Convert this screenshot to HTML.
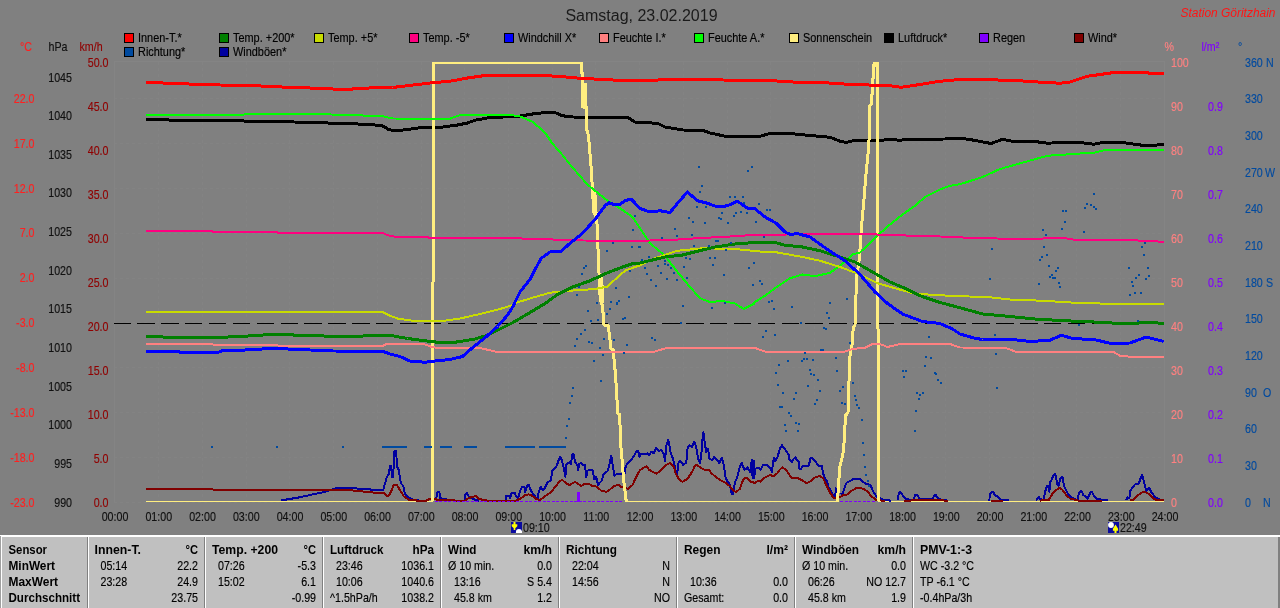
<!DOCTYPE html>
<html><head><meta charset="utf-8"><title>Wetter</title>
<style>html,body{margin:0;padding:0;background:#808080;overflow:hidden}svg{display:block;will-change:transform}text{font-family:"Liberation Sans", sans-serif;}</style>
</head><body>
<svg width="1280" height="608" viewBox="0 0 1280 608">
<rect x="0" y="0" width="1280" height="608" fill="#808080"/>
<text x="641.5" y="21" fill="#1a1a1a" font-size="16" text-anchor="middle" >Samstag, 23.02.2019</text>
<text x="1180.5" y="17" fill="#ff1414" font-size="12" text-anchor="start" font-style="italic" textLength="95" lengthAdjust="spacingAndGlyphs">Station G&#246;ritzhain</text>
<rect x="124.5" y="33.5" width="9" height="9" fill="#ff0000" stroke="#000" stroke-width="1" shape-rendering="crispEdges"/>
<text transform="translate(138 42) scale(0.91 1)" fill="#000" stroke="#000" stroke-width="0.15" font-size="12" text-anchor="start" >Innen-T.*</text>
<rect x="219.5" y="33.5" width="9" height="9" fill="#008000" stroke="#000" stroke-width="1" shape-rendering="crispEdges"/>
<text transform="translate(233 42) scale(0.91 1)" fill="#000" stroke="#000" stroke-width="0.15" font-size="12" text-anchor="start" >Temp. +200*</text>
<rect x="314.5" y="33.5" width="9" height="9" fill="#c8dc00" stroke="#000" stroke-width="1" shape-rendering="crispEdges"/>
<text transform="translate(328 42) scale(0.91 1)" fill="#000" stroke="#000" stroke-width="0.15" font-size="12" text-anchor="start" >Temp. +5*</text>
<rect x="409.5" y="33.5" width="9" height="9" fill="#ff0080" stroke="#000" stroke-width="1" shape-rendering="crispEdges"/>
<text transform="translate(423 42) scale(0.91 1)" fill="#000" stroke="#000" stroke-width="0.15" font-size="12" text-anchor="start" >Temp. -5*</text>
<rect x="504.5" y="33.5" width="9" height="9" fill="#0000ff" stroke="#000" stroke-width="1" shape-rendering="crispEdges"/>
<text transform="translate(518 42) scale(0.91 1)" fill="#000" stroke="#000" stroke-width="0.15" font-size="12" text-anchor="start" >Windchill X*</text>
<rect x="599.5" y="33.5" width="9" height="9" fill="#ff8080" stroke="#000" stroke-width="1" shape-rendering="crispEdges"/>
<text transform="translate(613 42) scale(0.91 1)" fill="#000" stroke="#000" stroke-width="0.15" font-size="12" text-anchor="start" >Feuchte I.*</text>
<rect x="694.5" y="33.5" width="9" height="9" fill="#00ff00" stroke="#000" stroke-width="1" shape-rendering="crispEdges"/>
<text transform="translate(708 42) scale(0.91 1)" fill="#000" stroke="#000" stroke-width="0.15" font-size="12" text-anchor="start" >Feuchte A.*</text>
<rect x="789.5" y="33.5" width="9" height="9" fill="#ffee80" stroke="#000" stroke-width="1" shape-rendering="crispEdges"/>
<text transform="translate(803 42) scale(0.91 1)" fill="#000" stroke="#000" stroke-width="0.15" font-size="12" text-anchor="start" >Sonnenschein</text>
<rect x="884.5" y="33.5" width="9" height="9" fill="#000000" stroke="#000" stroke-width="1" shape-rendering="crispEdges"/>
<text transform="translate(898 42) scale(0.91 1)" fill="#000" stroke="#000" stroke-width="0.15" font-size="12" text-anchor="start" >Luftdruck*</text>
<rect x="979.5" y="33.5" width="9" height="9" fill="#8000ff" stroke="#000" stroke-width="1" shape-rendering="crispEdges"/>
<text transform="translate(993 42) scale(0.91 1)" fill="#000" stroke="#000" stroke-width="0.15" font-size="12" text-anchor="start" >Regen</text>
<rect x="1074.5" y="33.5" width="9" height="9" fill="#800000" stroke="#000" stroke-width="1" shape-rendering="crispEdges"/>
<text transform="translate(1088 42) scale(0.91 1)" fill="#000" stroke="#000" stroke-width="0.15" font-size="12" text-anchor="start" >Wind*</text>
<rect x="124.5" y="47.5" width="9" height="9" fill="#004a9f" stroke="#000" stroke-width="1" shape-rendering="crispEdges"/>
<text transform="translate(138 56) scale(0.91 1)" fill="#000" stroke="#000" stroke-width="0.15" font-size="12" text-anchor="start" >Richtung*</text>
<rect x="219.5" y="47.5" width="9" height="9" fill="#0000a0" stroke="#000" stroke-width="1" shape-rendering="crispEdges"/>
<text transform="translate(233 56) scale(0.91 1)" fill="#000" stroke="#000" stroke-width="0.15" font-size="12" text-anchor="start" >Windb&#246;en*</text>
<text transform="translate(20 51) scale(0.89 1)" fill="#ff2020" stroke="#ff2020" stroke-width="0.15" font-size="12" text-anchor="start" >&#176;C</text>
<text transform="translate(48.5 51) scale(0.89 1)" fill="#101010" stroke="#101010" stroke-width="0.15" font-size="12" text-anchor="start" >hPa</text>
<text transform="translate(79.5 51) scale(0.89 1)" fill="#900000" stroke="#900000" stroke-width="0.15" font-size="12" text-anchor="start" >km/h</text>
<text transform="translate(1164.5 51) scale(0.89 1)" fill="#ff8080" stroke="#ff8080" stroke-width="0.15" font-size="12" text-anchor="start" >%</text>
<text transform="translate(1201.5 51) scale(0.89 1)" fill="#8000ff" stroke="#8000ff" stroke-width="0.15" font-size="12" text-anchor="start" >l/m&#178;</text>
<text transform="translate(1238 51) scale(0.89 1)" fill="#004a9f" stroke="#004a9f" stroke-width="0.15" font-size="12" text-anchor="start" >&#176;</text>
<text transform="translate(34.5 102.75) scale(0.89 1)" fill="#ff2020" stroke="#ff2020" stroke-width="0.15" font-size="12" text-anchor="end" >22.0</text>
<text transform="translate(34.5 147.65) scale(0.89 1)" fill="#ff2020" stroke="#ff2020" stroke-width="0.15" font-size="12" text-anchor="end" >17.0</text>
<text transform="translate(34.5 192.55) scale(0.89 1)" fill="#ff2020" stroke="#ff2020" stroke-width="0.15" font-size="12" text-anchor="end" >12.0</text>
<text transform="translate(34.5 237.45) scale(0.89 1)" fill="#ff2020" stroke="#ff2020" stroke-width="0.15" font-size="12" text-anchor="end" >7.0</text>
<text transform="translate(34.5 282.35) scale(0.89 1)" fill="#ff2020" stroke="#ff2020" stroke-width="0.15" font-size="12" text-anchor="end" >2.0</text>
<text transform="translate(34.5 327.25) scale(0.89 1)" fill="#ff2020" stroke="#ff2020" stroke-width="0.15" font-size="12" text-anchor="end" >-3.0</text>
<text transform="translate(34.5 372.15) scale(0.89 1)" fill="#ff2020" stroke="#ff2020" stroke-width="0.15" font-size="12" text-anchor="end" >-8.0</text>
<text transform="translate(34.5 417.05) scale(0.89 1)" fill="#ff2020" stroke="#ff2020" stroke-width="0.15" font-size="12" text-anchor="end" >-13.0</text>
<text transform="translate(34.5 461.95) scale(0.89 1)" fill="#ff2020" stroke="#ff2020" stroke-width="0.15" font-size="12" text-anchor="end" >-18.0</text>
<text transform="translate(34.5 506.85) scale(0.89 1)" fill="#ff2020" stroke="#ff2020" stroke-width="0.15" font-size="12" text-anchor="end" >-23.0</text>
<text transform="translate(72 81.5) scale(0.89 1)" fill="#101010" stroke="#101010" stroke-width="0.15" font-size="12" text-anchor="end" >1045</text>
<text transform="translate(72 120.16) scale(0.89 1)" fill="#101010" stroke="#101010" stroke-width="0.15" font-size="12" text-anchor="end" >1040</text>
<text transform="translate(72 158.82) scale(0.89 1)" fill="#101010" stroke="#101010" stroke-width="0.15" font-size="12" text-anchor="end" >1035</text>
<text transform="translate(72 197.48) scale(0.89 1)" fill="#101010" stroke="#101010" stroke-width="0.15" font-size="12" text-anchor="end" >1030</text>
<text transform="translate(72 236.14) scale(0.89 1)" fill="#101010" stroke="#101010" stroke-width="0.15" font-size="12" text-anchor="end" >1025</text>
<text transform="translate(72 274.8) scale(0.89 1)" fill="#101010" stroke="#101010" stroke-width="0.15" font-size="12" text-anchor="end" >1020</text>
<text transform="translate(72 313.46) scale(0.89 1)" fill="#101010" stroke="#101010" stroke-width="0.15" font-size="12" text-anchor="end" >1015</text>
<text transform="translate(72 352.12) scale(0.89 1)" fill="#101010" stroke="#101010" stroke-width="0.15" font-size="12" text-anchor="end" >1010</text>
<text transform="translate(72 390.78) scale(0.89 1)" fill="#101010" stroke="#101010" stroke-width="0.15" font-size="12" text-anchor="end" >1005</text>
<text transform="translate(72 429.44) scale(0.89 1)" fill="#101010" stroke="#101010" stroke-width="0.15" font-size="12" text-anchor="end" >1000</text>
<text transform="translate(72 468.1) scale(0.89 1)" fill="#101010" stroke="#101010" stroke-width="0.15" font-size="12" text-anchor="end" >995</text>
<text transform="translate(72 506.76) scale(0.89 1)" fill="#101010" stroke="#101010" stroke-width="0.15" font-size="12" text-anchor="end" >990</text>
<text transform="translate(108.5 66.5) scale(0.89 1)" fill="#900000" stroke="#900000" stroke-width="0.15" font-size="12" text-anchor="end" >50.0</text>
<text transform="translate(108.5 110.5) scale(0.89 1)" fill="#900000" stroke="#900000" stroke-width="0.15" font-size="12" text-anchor="end" >45.0</text>
<text transform="translate(108.5 154.5) scale(0.89 1)" fill="#900000" stroke="#900000" stroke-width="0.15" font-size="12" text-anchor="end" >40.0</text>
<text transform="translate(108.5 198.5) scale(0.89 1)" fill="#900000" stroke="#900000" stroke-width="0.15" font-size="12" text-anchor="end" >35.0</text>
<text transform="translate(108.5 242.5) scale(0.89 1)" fill="#900000" stroke="#900000" stroke-width="0.15" font-size="12" text-anchor="end" >30.0</text>
<text transform="translate(108.5 286.5) scale(0.89 1)" fill="#900000" stroke="#900000" stroke-width="0.15" font-size="12" text-anchor="end" >25.0</text>
<text transform="translate(108.5 330.5) scale(0.89 1)" fill="#900000" stroke="#900000" stroke-width="0.15" font-size="12" text-anchor="end" >20.0</text>
<text transform="translate(108.5 374.5) scale(0.89 1)" fill="#900000" stroke="#900000" stroke-width="0.15" font-size="12" text-anchor="end" >15.0</text>
<text transform="translate(108.5 418.5) scale(0.89 1)" fill="#900000" stroke="#900000" stroke-width="0.15" font-size="12" text-anchor="end" >10.0</text>
<text transform="translate(108.5 462.5) scale(0.89 1)" fill="#900000" stroke="#900000" stroke-width="0.15" font-size="12" text-anchor="end" >5.0</text>
<text transform="translate(108.5 506.5) scale(0.89 1)" fill="#900000" stroke="#900000" stroke-width="0.15" font-size="12" text-anchor="end" >0.0</text>
<text transform="translate(1171 66.5) scale(0.89 1)" fill="#ff8080" stroke="#ff8080" stroke-width="0.15" font-size="12" text-anchor="start" >100</text>
<text transform="translate(1171 110.5) scale(0.89 1)" fill="#ff8080" stroke="#ff8080" stroke-width="0.15" font-size="12" text-anchor="start" >90</text>
<text transform="translate(1171 154.5) scale(0.89 1)" fill="#ff8080" stroke="#ff8080" stroke-width="0.15" font-size="12" text-anchor="start" >80</text>
<text transform="translate(1171 198.5) scale(0.89 1)" fill="#ff8080" stroke="#ff8080" stroke-width="0.15" font-size="12" text-anchor="start" >70</text>
<text transform="translate(1171 242.5) scale(0.89 1)" fill="#ff8080" stroke="#ff8080" stroke-width="0.15" font-size="12" text-anchor="start" >60</text>
<text transform="translate(1171 286.5) scale(0.89 1)" fill="#ff8080" stroke="#ff8080" stroke-width="0.15" font-size="12" text-anchor="start" >50</text>
<text transform="translate(1171 330.5) scale(0.89 1)" fill="#ff8080" stroke="#ff8080" stroke-width="0.15" font-size="12" text-anchor="start" >40</text>
<text transform="translate(1171 374.5) scale(0.89 1)" fill="#ff8080" stroke="#ff8080" stroke-width="0.15" font-size="12" text-anchor="start" >30</text>
<text transform="translate(1171 418.5) scale(0.89 1)" fill="#ff8080" stroke="#ff8080" stroke-width="0.15" font-size="12" text-anchor="start" >20</text>
<text transform="translate(1171 462.5) scale(0.89 1)" fill="#ff8080" stroke="#ff8080" stroke-width="0.15" font-size="12" text-anchor="start" >10</text>
<text transform="translate(1171 506.5) scale(0.89 1)" fill="#ff8080" stroke="#ff8080" stroke-width="0.15" font-size="12" text-anchor="start" >0</text>
<text transform="translate(1208 110.5) scale(0.89 1)" fill="#8000ff" stroke="#8000ff" stroke-width="0.15" font-size="12" text-anchor="start" >0.9</text>
<text transform="translate(1208 154.5) scale(0.89 1)" fill="#8000ff" stroke="#8000ff" stroke-width="0.15" font-size="12" text-anchor="start" >0.8</text>
<text transform="translate(1208 198.5) scale(0.89 1)" fill="#8000ff" stroke="#8000ff" stroke-width="0.15" font-size="12" text-anchor="start" >0.7</text>
<text transform="translate(1208 242.5) scale(0.89 1)" fill="#8000ff" stroke="#8000ff" stroke-width="0.15" font-size="12" text-anchor="start" >0.6</text>
<text transform="translate(1208 286.5) scale(0.89 1)" fill="#8000ff" stroke="#8000ff" stroke-width="0.15" font-size="12" text-anchor="start" >0.5</text>
<text transform="translate(1208 330.5) scale(0.89 1)" fill="#8000ff" stroke="#8000ff" stroke-width="0.15" font-size="12" text-anchor="start" >0.4</text>
<text transform="translate(1208 374.5) scale(0.89 1)" fill="#8000ff" stroke="#8000ff" stroke-width="0.15" font-size="12" text-anchor="start" >0.3</text>
<text transform="translate(1208 418.5) scale(0.89 1)" fill="#8000ff" stroke="#8000ff" stroke-width="0.15" font-size="12" text-anchor="start" >0.2</text>
<text transform="translate(1208 462.5) scale(0.89 1)" fill="#8000ff" stroke="#8000ff" stroke-width="0.15" font-size="12" text-anchor="start" >0.1</text>
<text transform="translate(1208 506.5) scale(0.89 1)" fill="#8000ff" stroke="#8000ff" stroke-width="0.15" font-size="12" text-anchor="start" >0.0</text>
<text transform="translate(1245 66.5) scale(0.89 1)" fill="#004a9f" stroke="#004a9f" stroke-width="0.15" font-size="12" text-anchor="start" >360</text>
<text transform="translate(1266 66.5) scale(0.89 1)" fill="#004a9f" stroke="#004a9f" stroke-width="0.15" font-size="12" text-anchor="start" >N</text>
<text transform="translate(1245 103.19) scale(0.89 1)" fill="#004a9f" stroke="#004a9f" stroke-width="0.15" font-size="12" text-anchor="start" >330</text>
<text transform="translate(1245 139.88) scale(0.89 1)" fill="#004a9f" stroke="#004a9f" stroke-width="0.15" font-size="12" text-anchor="start" >300</text>
<text transform="translate(1245 176.57) scale(0.89 1)" fill="#004a9f" stroke="#004a9f" stroke-width="0.15" font-size="12" text-anchor="start" >270</text>
<text transform="translate(1265 176.57) scale(0.89 1)" fill="#004a9f" stroke="#004a9f" stroke-width="0.15" font-size="12" text-anchor="start" >W</text>
<text transform="translate(1245 213.26) scale(0.89 1)" fill="#004a9f" stroke="#004a9f" stroke-width="0.15" font-size="12" text-anchor="start" >240</text>
<text transform="translate(1245 249.95) scale(0.89 1)" fill="#004a9f" stroke="#004a9f" stroke-width="0.15" font-size="12" text-anchor="start" >210</text>
<text transform="translate(1245 286.64) scale(0.89 1)" fill="#004a9f" stroke="#004a9f" stroke-width="0.15" font-size="12" text-anchor="start" >180</text>
<text transform="translate(1266 286.64) scale(0.89 1)" fill="#004a9f" stroke="#004a9f" stroke-width="0.15" font-size="12" text-anchor="start" >S</text>
<text transform="translate(1245 323.33) scale(0.89 1)" fill="#004a9f" stroke="#004a9f" stroke-width="0.15" font-size="12" text-anchor="start" >150</text>
<text transform="translate(1245 360.02) scale(0.89 1)" fill="#004a9f" stroke="#004a9f" stroke-width="0.15" font-size="12" text-anchor="start" >120</text>
<text transform="translate(1245 396.71) scale(0.89 1)" fill="#004a9f" stroke="#004a9f" stroke-width="0.15" font-size="12" text-anchor="start" >90</text>
<text transform="translate(1263 396.71) scale(0.89 1)" fill="#004a9f" stroke="#004a9f" stroke-width="0.15" font-size="12" text-anchor="start" >O</text>
<text transform="translate(1245 433.4) scale(0.89 1)" fill="#004a9f" stroke="#004a9f" stroke-width="0.15" font-size="12" text-anchor="start" >60</text>
<text transform="translate(1245 470.09) scale(0.89 1)" fill="#004a9f" stroke="#004a9f" stroke-width="0.15" font-size="12" text-anchor="start" >30</text>
<text transform="translate(1245 506.78) scale(0.89 1)" fill="#004a9f" stroke="#004a9f" stroke-width="0.15" font-size="12" text-anchor="start" >0</text>
<text transform="translate(1263 506.78) scale(0.89 1)" fill="#004a9f" stroke="#004a9f" stroke-width="0.15" font-size="12" text-anchor="start" >N</text>
<text transform="translate(115 521) scale(0.89 1)" fill="#101010" stroke="#101010" stroke-width="0.15" font-size="12" text-anchor="middle" >00:00</text>
<text transform="translate(158.75 521) scale(0.89 1)" fill="#101010" stroke="#101010" stroke-width="0.15" font-size="12" text-anchor="middle" >01:00</text>
<text transform="translate(202.5 521) scale(0.89 1)" fill="#101010" stroke="#101010" stroke-width="0.15" font-size="12" text-anchor="middle" >02:00</text>
<text transform="translate(246.25 521) scale(0.89 1)" fill="#101010" stroke="#101010" stroke-width="0.15" font-size="12" text-anchor="middle" >03:00</text>
<text transform="translate(290 521) scale(0.89 1)" fill="#101010" stroke="#101010" stroke-width="0.15" font-size="12" text-anchor="middle" >04:00</text>
<text transform="translate(333.75 521) scale(0.89 1)" fill="#101010" stroke="#101010" stroke-width="0.15" font-size="12" text-anchor="middle" >05:00</text>
<text transform="translate(377.5 521) scale(0.89 1)" fill="#101010" stroke="#101010" stroke-width="0.15" font-size="12" text-anchor="middle" >06:00</text>
<text transform="translate(421.25 521) scale(0.89 1)" fill="#101010" stroke="#101010" stroke-width="0.15" font-size="12" text-anchor="middle" >07:00</text>
<text transform="translate(465 521) scale(0.89 1)" fill="#101010" stroke="#101010" stroke-width="0.15" font-size="12" text-anchor="middle" >08:00</text>
<text transform="translate(508.75 521) scale(0.89 1)" fill="#101010" stroke="#101010" stroke-width="0.15" font-size="12" text-anchor="middle" >09:00</text>
<text transform="translate(552.5 521) scale(0.89 1)" fill="#101010" stroke="#101010" stroke-width="0.15" font-size="12" text-anchor="middle" >10:00</text>
<text transform="translate(596.25 521) scale(0.89 1)" fill="#101010" stroke="#101010" stroke-width="0.15" font-size="12" text-anchor="middle" >11:00</text>
<text transform="translate(640 521) scale(0.89 1)" fill="#101010" stroke="#101010" stroke-width="0.15" font-size="12" text-anchor="middle" >12:00</text>
<text transform="translate(683.75 521) scale(0.89 1)" fill="#101010" stroke="#101010" stroke-width="0.15" font-size="12" text-anchor="middle" >13:00</text>
<text transform="translate(727.5 521) scale(0.89 1)" fill="#101010" stroke="#101010" stroke-width="0.15" font-size="12" text-anchor="middle" >14:00</text>
<text transform="translate(771.25 521) scale(0.89 1)" fill="#101010" stroke="#101010" stroke-width="0.15" font-size="12" text-anchor="middle" >15:00</text>
<text transform="translate(815 521) scale(0.89 1)" fill="#101010" stroke="#101010" stroke-width="0.15" font-size="12" text-anchor="middle" >16:00</text>
<text transform="translate(858.75 521) scale(0.89 1)" fill="#101010" stroke="#101010" stroke-width="0.15" font-size="12" text-anchor="middle" >17:00</text>
<text transform="translate(902.5 521) scale(0.89 1)" fill="#101010" stroke="#101010" stroke-width="0.15" font-size="12" text-anchor="middle" >18:00</text>
<text transform="translate(946.25 521) scale(0.89 1)" fill="#101010" stroke="#101010" stroke-width="0.15" font-size="12" text-anchor="middle" >19:00</text>
<text transform="translate(990 521) scale(0.89 1)" fill="#101010" stroke="#101010" stroke-width="0.15" font-size="12" text-anchor="middle" >20:00</text>
<text transform="translate(1033.75 521) scale(0.89 1)" fill="#101010" stroke="#101010" stroke-width="0.15" font-size="12" text-anchor="middle" >21:00</text>
<text transform="translate(1077.5 521) scale(0.89 1)" fill="#101010" stroke="#101010" stroke-width="0.15" font-size="12" text-anchor="middle" >22:00</text>
<text transform="translate(1121.25 521) scale(0.89 1)" fill="#101010" stroke="#101010" stroke-width="0.15" font-size="12" text-anchor="middle" >23:00</text>
<text transform="translate(1165 521) scale(0.89 1)" fill="#101010" stroke="#101010" stroke-width="0.15" font-size="12" text-anchor="middle" >24:00</text>
<g shape-rendering="crispEdges">
<path d="M114.5 62V502M158.5 62V502M202.5 62V502M246.5 62V502M289.5 62V502M333.5 62V502M377.5 62V502M421.5 62V502M464.5 62V502M508.5 62V502M552.5 62V502M595.5 62V502M639.5 62V502M683.5 62V502M727.5 62V502M770.5 62V502M814.5 62V502M858.5 62V502M901.5 62V502M945.5 62V502M989.5 62V502M1033.5 62V502M1076.5 62V502M1120.5 62V502M1164.5 62V502M114 98.5H1164M114 143.5H1164M114 188.5H1164M114 233.5H1164M114 278.5H1164M114 322.5H1164M114 367.5H1164M114 412.5H1164M114 457.5H1164M114 502.5H1164" stroke="#838383" stroke-width="1" fill="none" stroke-dasharray="3 3"/>
<path d="M114.5 502V61.5H1164.5V502" stroke="#848484" stroke-width="1" fill="none"/>
<line x1="113.5" y1="323.5" x2="1164" y2="323.5" stroke="#000" stroke-width="1" stroke-dasharray="17.4 6.46"/>
<line x1="145.75" y1="501.5" x2="433" y2="501.5" stroke="#ffee80" stroke-width="1.6"/>
<line x1="626" y1="501.5" x2="837.5" y2="501.5" stroke="#ffee80" stroke-width="1.6"/>
<line x1="877.5" y1="501.5" x2="1163.75" y2="501.5" stroke="#ffee80" stroke-width="1.6"/>
<polyline points="281.25,500.4 300,497.25 312.5,494.4 325,491.9 335,488.5 340,487.75 355,487.75 357.5,488.75 370,488.75 371.25,490 383.1,490 385,483.75 386.9,476.9 388.75,474.4 390,466.25 391.25,466.25 391.9,476.9 393.1,477.5 394.4,451.25 396.25,451.25 396.9,466.25 398.75,470 400,478.75 401.25,483.75 403.1,485.6 405,493.75 408.75,497.5 412.5,499.4 420,500.6" fill="none" stroke="#0000a0" stroke-width="2" stroke-linejoin="round" />
<polyline points="436.25,498.75 437.5,491.9 439.4,491.9 440,498 443.75,499 452,500.4" fill="none" stroke="#0000a0" stroke-width="2" stroke-linejoin="round" />
<polyline points="464.4,500.6 465,495.6 466.9,492.5 468.75,496.25 472.5,498.75 478.75,501" fill="none" stroke="#0000a0" stroke-width="2" stroke-linejoin="round" />
<polyline points="505.6,501 506.25,496 508.75,495.6 510,498.1 511.9,492.5 514.4,492.5 516.25,496.25 518.1,498.5 520,491.25 521.9,486.9 524.4,486.9 525.25,491.9 527.5,484.75 528.75,485 531.25,491.25 535,496.25 537.5,499.4 538.1,494.4 540.6,486.9 543.1,490 545,487.75 547.5,482.5 550.6,480.6 552.5,470.6 556.25,466.9 558.75,460 560,456.9 561.9,460 564.4,471.25 565.4,476.9 566.25,464.4 570,461.9 570.6,464.4 572.5,454.4 573.75,454.4 575,461.9 577.5,465.6 578.1,470 579.4,463.75 581.25,463.1 582.5,465 585,465.25 586.25,476.9 587.5,470.6 592.5,470 594.4,479.4 596.25,476.9 598.1,485 600,482.5 601.9,480.6 603.75,473.75 607.5,471.25 609.4,465 611.25,455.6 612.5,463.75 614.4,475.6 617.5,473.75 620,473.75 624.4,475.6 625,468.75 626.9,463.75 631.25,460 633.75,456.25 636.25,451.9 638.1,450.6 639.4,456.9 640.6,453.75 647.5,453.5 649.4,455 651.25,451.9 653.75,453.1 656.25,448.1 658.75,451.25 661.25,450 663.75,453.75 665,461.25 666.25,446.25 668.1,439.75 669.4,445 670.6,452.5 672.5,457.5 674.4,464.4 675.6,470 677.25,473.75 678.1,463.75 680,460.6 683.1,465 686.25,462.5 687.5,448.75 689.4,445 691.9,446.9 694.4,441.9 696.25,447.5 698.1,458.75 700,463.1 701.25,455 702.5,439.4 703.4,432.5 704.4,440 706.25,452.5 708.1,448.75 709.4,458.75 711.9,460 714.4,456.9 716.9,460 719.4,463.1 721.9,457.5 723.75,465 725.6,477.5 727.5,481.25 730,485 731.9,494.4 733.1,493.75 735,482.5 737.5,476.25 740,466.25 741.9,463.1 744.4,470 747.5,467.5 750,471.9 751.9,460 752.6,478.5 753.75,461 754.3,478.1 755,468.75 758.75,467.5 760.6,470 763.1,465 767.5,465 770,468.1 771.9,471.9 773.75,458.1 775,461.25 777.5,456.9 780,448.75 781.9,445 785,449.4 788.75,455 789.4,459.4 791.9,461.9 793.75,458.75 795.6,456.9 796.9,460.6 798.75,461.25 799.4,468.75 801.25,468.75 802.5,466.25 808.75,465.6 810.6,458.1 812.5,458.1 814.4,460 816.9,463.75 818.75,465.6 821.9,466.25 823.1,473.75 825,478.1 826.9,481.25 828.75,487.5 831.25,491.25 833.75,496.25 835,496.25 836.25,487.5" fill="none" stroke="#0000a0" stroke-width="2" stroke-linejoin="round" />
<polyline points="840.6,494.4 842.5,493.75 845,486.25 846.9,482.5 850,481 853.75,478.75 859.4,478.75 862.5,481.25 865.6,483.75 870.6,485 872.5,490 875,494.4 876.9,496.9 880.6,498.5 883.75,500 890.6,500.6" fill="none" stroke="#0000a0" stroke-width="2" stroke-linejoin="round" />
<polyline points="897.5,500 898.75,493.75 900.25,491.5 902.5,495 905,498.5 910,499.75 913.75,499.75 915,495 916.9,494.75 918.75,497.5 921.25,499.4 932.5,499.4 934.4,495 935.6,494.75 937.5,498.1 940,499.4 942.5,500 948,500.6" fill="none" stroke="#0000a0" stroke-width="2" stroke-linejoin="round" />
<polyline points="989.4,500.6 989.75,494.4 991.9,491.5 993.1,491.5 994.4,495 996.9,496.25 1000,499.4 1003.75,500.4 1008.75,500.4" fill="none" stroke="#0000a0" stroke-width="2" stroke-linejoin="round" />
<polyline points="1036.25,500.4 1038.75,496.9 1040.6,499.4 1043.75,499.75 1045,492.5 1046.9,485.6 1048.1,485.6 1049.4,491.9 1050,481.9 1051.9,479.4 1053.1,475.6 1055,473.75 1056.25,478.1 1057.5,485 1058.75,485.6 1060,479.4 1061.9,476.9 1063.1,478.1 1063.75,485.6 1065.6,489.4 1067.5,493.1 1070.6,496.9 1074.4,498.75 1077.5,500.25 1078.75,493.75 1080.6,491 1081.9,491.5 1083.1,495 1085,496.25 1087.5,498.5 1088.75,496.25 1090.6,491.9 1091.9,491.9 1093.75,495.6 1096.25,498.75 1100,499.4 1103.75,500.4 1107.5,500.4" fill="none" stroke="#0000a0" stroke-width="2" stroke-linejoin="round" />
<polyline points="1126.25,500 1127.5,497.5 1129.4,498 1130,491.25 1132.5,487.5 1135,484.4 1138.75,483.75 1140.6,478.1 1141.9,474.75 1143.1,478.1 1144.4,483.75 1146.25,490.6 1148.75,488.1 1150,489.4 1151.9,493.1 1155,496.9 1158.1,499.1 1162.5,500.4 1163.75,500.4" fill="none" stroke="#0000a0" stroke-width="2" stroke-linejoin="round" />
<polyline points="146,489 212.5,489 213.5,490 352.5,490 353.75,491 362.5,491.5 372.5,492.5 383.75,493 386.25,495.6 388.75,495.6 391.25,491.25 393.75,485 396.9,485 400,490 403.75,496.25 408.75,499.75 417.5,500.6 426.25,500.6 430,498.75 435,498.75 437.5,500 451.25,500 458.75,501 460,501.25 465,500.6 468.75,498.1 472.5,496.9 475.6,496 478.1,498.5 482.5,499.75 489.4,501 506.25,501 516.25,500.6 521.25,498.1 525,495 528.75,494.4 532.5,496 536.25,499 540,500 545,496.25 551.25,491.9 556.25,485.6 560,481 562.5,480 566.25,483.5 569.4,485 575,481.9 581.25,486 585,483.75 590,484.4 592.5,486 596.25,486.5 601.25,490.6 606.25,491.9 610,489.4 615,485.6 618.75,485 620,486.25 623.75,487.75 628.1,488.75 632.5,485 636.25,476.9 640,470 646.25,466.25 649.4,470 656.25,473.75 661.25,470 666.25,465 670,463.1 673.75,466.25 675.6,473.75 678.75,478.75 682.5,481.9 687.5,478.75 692.5,471.25 695,465.6 696.9,465 701.25,468.1 705,470 709.4,470 711.25,473.1 715,476.25 720,480 725,482.5 730,486.25 733.75,491.25 736.25,491.9 740,488.75 741.9,482.5 744.4,478.1 746.9,477.9 750,481.25 755,483.1 758.1,480.6 760.6,481.9 763.75,478.1 770,475 773.75,476.25 777.5,473.1 780,469.4 782.5,467.5 786.25,470 789.4,475 791.9,478.1 798.75,478.5 802.5,480.6 806.25,483.1 809.4,481.9 815,477.5 819.4,475.9 823.1,478.1 826.25,485 830,492.5 833.75,498.1 835.6,498.1 840,496.9 843.75,495 847.5,494.4 851.9,490.6 856.25,488.1 858.75,487.75 863.1,488.75 867.5,491.25 871.25,496.25 876.25,500 885,501" fill="none" stroke="#800000" stroke-width="2" stroke-linejoin="round" />
<polyline points="903.75,500.6 910,500.6 916.25,500 940,500 942.5,499.75 944,500.6 948,500.6" fill="none" stroke="#800000" stroke-width="2" stroke-linejoin="round" />
<polyline points="991.25,500.6 1002.5,500.6" fill="none" stroke="#800000" stroke-width="2" stroke-linejoin="round" />
<polyline points="1040,500.6 1048.75,500 1052.5,493.75 1056.25,490 1060,487.75 1062.5,490 1066.25,495 1070,498.5 1075,499.75 1078.75,500.6 1102,500.6" fill="none" stroke="#800000" stroke-width="2" stroke-linejoin="round" />
<polyline points="1130,500.6 1133.75,499.4 1136.25,496.25 1140,493.75 1143.75,491.5 1147.5,493.1 1150.6,495.6 1153.75,498.75 1156.25,500 1163.75,500.4" fill="none" stroke="#800000" stroke-width="2" stroke-linejoin="round" />
<line x1="434.5" y1="501.7" x2="624" y2="501.7" stroke="#8000ff" stroke-width="1.4" stroke-dasharray="3 1.5"/>
<line x1="840" y1="501.7" x2="876" y2="501.7" stroke="#8000ff" stroke-width="1.4" stroke-dasharray="3 1.5"/>
<rect x="577" y="491.5" width="3" height="10.5" fill="#8000ff"/>
<polyline points="145.75,119.5 180,120.25 243.75,121 293.75,122 320,122.25 327.5,123 352.5,123.75 372.5,124.75 382.5,125.75 388.75,129.5 395,131 407.5,129.5 420,127.75 437.5,127.75 457.5,125 467.5,123 475,120.25 490,117.5 517.5,116.5 532.5,114 545,112.5 555,112.5 562.5,115.75 572.5,117 612,117.5 629,118 631.5,120 635,122 640,122.5 657.5,123.25 665,127 682.5,130 702.5,130.25 710,133 728.75,137 760,136.25 770,133.5 790,133.5 805,135 830,137.25 840,141.25 846.25,142.5 855,140.25 880,140.75 887.5,139.25 900,140.25 910,139.25 945,139 960,138 972.5,140 991.25,143.5 1002.5,139.25 1012.5,141.25 1035,141.5 1047.5,143.25 1060,142.5 1080,142.5 1093.75,144.25 1102.5,142.5 1122.5,142.5 1147.5,146 1163.75,144.25" fill="none" stroke="#000000" stroke-width="3" stroke-linejoin="round" />
<polyline points="433,501.5 432.6,283 433.5,281 433.5,62" fill="none" stroke="#ffee80" stroke-width="3" stroke-linejoin="round" />
<rect x="432" y="62" width="151" height="2" fill="#ffee80"/>
<polyline points="581.5,62 581.5,73 582.2,73 582.2,83 582.8,83 582.8,107 586.25,107 586.25,128 588.5,136 590.2,156 591,166 592.3,186 592.6,192 593.75,212 596.5,218 597.3,227 598,249 598.6,268 599.3,276 599.6,288 600.3,300 602.5,306 603.6,320 604,325 608.5,326 608.75,330 610.6,345 611,349 613.5,350 613.7,357 614.7,364 615.4,376 616.5,388 617.2,404 617.8,413 619.5,414.5 620,425 620.6,440 620.9,446.5 621.75,456 623.75,481 626.25,501.5" fill="none" stroke="#ffee80" stroke-width="3" stroke-linejoin="round" />
<polyline points="585.4,83 585.4,107" fill="none" stroke="#ffee80" stroke-width="3" stroke-linejoin="round" />
<polyline points="594.75,190 596.25,216" fill="none" stroke="#ffee80" stroke-width="3" stroke-linejoin="round" />
<polyline points="601.5,277 602.25,288 602.25,303" fill="none" stroke="#ffee80" stroke-width="3" stroke-linejoin="round" />
<polyline points="837.5,501.5 838.75,481 840,466 842.5,456 843.75,447.75 845,425.25 845.75,415.25 848,412.75 848.75,391.5 849.5,361.5 850.5,351.5 852,345.25 853.25,327.75 855,325.25 855.75,304 856.5,277 857.5,272 859.5,257 860.75,237 861.75,224.5 863.75,202 865.75,177 868.25,152 869.6,131 869.6,106 871.9,104 871.9,95 872.8,94 872.8,79 873.5,78 873.5,64" fill="none" stroke="#ffee80" stroke-width="3" stroke-linejoin="round" />
<polyline points="877.5,62 877.9,280 878.4,501.5" fill="none" stroke="#ffee80" stroke-width="3" stroke-linejoin="round" />
<rect x="873" y="62" width="6" height="5" fill="#ffee80"/>
<polyline points="145.75,115.25 243,115.25 244.5,114.25 320,114.25 342.5,114.75 362.5,115.5 382.5,116.25 392.5,118.5 450,118.75 458.75,115.5 512.5,115.25 520,116.5 532.5,121.75 545,132.5 552.5,143.75 560,152 570,164.5 577.5,173.25 587.5,184.5 595,190.75 607.5,200.75 620,208.25 632.5,217 640,228.25 650,243.25 665,255.75 677.5,272 690,287 700,298.25 710,302 722.5,301 735,303.5 743.75,309 753.75,304 755,302 765,295.75 775,288.25 790,278.25 802.5,274.5 815,276.25 830,272.75 840,265.75 852.5,254.5 860,252.5 872.5,240.75 880,233.25 890,224.5 902.5,214.5 915,205.75 925,197 940,189.5 950,185.75 960,184.25 982.5,177 1000,169 1025,162 1047.5,155.75 1095,152.5 1105,150 1163.75,150" fill="none" stroke="#00ff00" stroke-width="2" stroke-linejoin="round" />
<polyline points="145.75,344 212.5,344 213.5,345 277.5,345 278.5,346 382.5,346 387.5,343.5 422.5,343.5 432.5,347.25 440,348 480,348 495,351.5 655,351.5 665,348.5 670,348 755,348 765,351.5 845,351.5 852.5,349 865,347.75 872.5,344 880,344 887.5,347 900,344 950,344 960,347.5 1005,347.75 1015,351.5 1112.5,351.5 1120,355.75 1130,356.75 1163.75,356.75" fill="none" stroke="#ff8080" stroke-width="2" stroke-linejoin="round" />
<polyline points="145.75,230.75 212,230.75 213,231.75 277,231.75 278,232.75 382.5,232.75 387.5,235.25 395,236.75 427.5,237.25 430,238 520,238 522.5,238.75 552.5,239.5 582.5,240.5 640,240.75 670,240 697.5,238.25 730,236.5 752.5,235 787.5,234.5 825,233.75 857.5,233.75 890,235 930,236.25 960,237 965,237.75 1007.5,238.75 1042.5,238.75 1045,237.75 1065,238.25 1075,239.75 1132.5,240.25 1152.5,241.25 1163.75,241.75" fill="none" stroke="#ff0080" stroke-width="2" stroke-linejoin="round" />
<polyline points="145.75,312 243.75,311.5 310,311.5 320,312 382.5,312 390,315.75 397.5,318.5 412.5,320.75 442.5,321 460,318.5 480,314 500,309 512.5,305.25 516.25,302.75 532.5,297.75 550,292.75 570,290.75 595,289 607.5,286.5 615,279.5 625,270.75 635,267 640,265.5 655,258.25 677.5,250.75 702.5,248.25 735,249 760,251.5 777.5,252.5 802.5,257 820,260.75 840,267 860,274.5 877.5,283.25 895,288.25 915,293.75 940,295.25 960,296.25 987.5,297 1010,299.5 1042.5,300.75 1075,302.75 1106,303.7 1163.75,304.2" fill="none" stroke="#c8dc00" stroke-width="2" stroke-linejoin="round" />
<polyline points="145.75,336.25 162.5,337 195,338 220,337.5 236,336.5 253.75,335.75 270,334.5 292.5,334.5 295,335.5 320,335.5 327.5,336.5 362.5,336.25 365,335.5 392.5,335.75 407.5,338.5 425,340.75 437.5,342.25 455,342.25 475,339 487.5,335.25 500,329 512.5,322.75 527.5,314 540,306.5 545,303.5 557.5,294.5 572.5,287 590,280.75 607.5,272.75 622.5,267 632.5,263.75 640,263 652.5,260 665,257 682.5,255 697.5,251.25 715,247 735,244 755,242.5 775,242.5 785,245.25 802.5,247 820,250.75 840,257 855,262 872.5,272 890,282 905,288.25 920,295.75 940,302.5 960,307.75 982.5,314 1005,316 1035,319 1065,320.75 1100,322.25 1127.5,324 1145,322.5 1163.75,323.25" fill="none" stroke="#008000" stroke-width="3" stroke-linejoin="round" />
<polyline points="145.75,82 162.5,83 195,84.25 228.75,85.25 261,86 287.5,87.25 310,88 320,88 332.5,89 352.5,89 373.75,87.75 385,88 392.5,87.5 405,86 432.5,82.75 450,81.25 467.5,78 485,75.5 540,75.25 560,76.5 580,78.25 612.5,80 640,80.5 667.5,79.75 722.5,80 772.5,80.75 792.5,82 825,82.75 847.5,84.25 890,85.75 901,87.25 915,85.25 940,81.25 960,79.5 997.5,80 1022.5,81 1037.5,82 1060,83.25 1070,82 1087.5,76.25 1112.5,72.75 1147.5,72.75 1150,73.5 1163.75,73.5" fill="none" stroke="#ff0000" stroke-width="3" stroke-linejoin="round" />
<polyline points="145.75,351.25 178.75,351.5 180,352.5 220,352 221,351 236.25,350.5 253.75,349.5 270,348.5 287.5,349 310,350 320,350.25 332.5,351 382.5,351.25 390,354 400,356.5 410,361 425,362.25 437.5,360.75 450,359.5 462.5,356.5 472.5,347.75 485,337.75 497.5,326.5 507.5,315.25 513.75,305.25 515,302 520,292 530,279.5 535,269.5 541.25,258.25 550,252 561.25,251.25 570,243.25 582.5,233.25 595,219.5 605,205.75 608.75,202.75 613.75,204.5 620,204.5 625,200.75 631.25,199 636.25,204.5 640,208.5 650,212 660,210.75 670,212.5 677.5,203.25 687.5,192 697.5,200.75 707.5,203.25 717.5,207 727.5,205.75 737.5,201.25 747.5,208.25 755,208.75 765,217 776.25,223.25 785,232 791.25,235 796.25,233.25 810,237 827.5,249.5 845,260.75 860,274.5 875,292 887.5,303.5 902.5,314 922.5,321.5 940,323.5 952.5,329 960,334 975,338.25 982.5,339.5 1015,339.75 1030,341.5 1050,340.25 1061.25,335.25 1072.5,338.5 1095,339.75 1110,343.25 1130,343 1146.25,337 1163.75,341.5" fill="none" stroke="#0000ff" stroke-width="3" stroke-linejoin="round" />
<rect x="382" y="446" width="25" height="2" fill="#004a9f"/>
<rect x="423.75" y="446" width="7.75" height="2" fill="#004a9f"/>
<rect x="440" y="446" width="12" height="2" fill="#004a9f"/>
<rect x="463.75" y="446" width="13.25" height="2" fill="#004a9f"/>
<rect x="505" y="446" width="30" height="2" fill="#004a9f"/>
<rect x="539" y="446" width="27.25" height="2" fill="#004a9f"/>
<path d="M211 446h2v2h-2zM276 446h2v2h-2zM342 446h2v2h-2zM634 215h2v2h-2zM632 229h2v2h-2zM612 242h2v2h-2zM631 246h2v2h-2zM638 246h2v2h-2zM606 250h2v2h-2zM585 265h2v2h-2zM583 267h2v2h-2zM581 273h2v2h-2zM629 270h2v2h-2zM578 286h2v2h-2zM615 287h2v2h-2zM576 294h2v2h-2zM628 296h2v2h-2zM618 300h2v2h-2zM596 302h2v2h-2zM610 301h2v2h-2zM616 302h2v2h-2zM698 166h2v2h-2zM751 166h2v2h-2zM747 170h2v2h-2zM701 185h2v2h-2zM699 191h2v2h-2zM729 196h2v2h-2zM734 196h2v2h-2zM742 196h2v2h-2zM743 202h2v2h-2zM758 203h2v2h-2zM696 206h2v2h-2zM705 206h2v2h-2zM766 209h2v2h-2zM769 209h2v2h-2zM721 212h2v2h-2zM735 212h2v2h-2zM740 211h2v2h-2zM746 212h2v2h-2zM733 215h2v2h-2zM688 217h2v2h-2zM718 217h2v2h-2zM720 218h2v2h-2zM692 221h2v2h-2zM704 222h2v2h-2zM727 222h2v2h-2zM755 221h2v2h-2zM674 228h2v2h-2zM676 235h2v2h-2zM691 234h2v2h-2zM661 237h2v2h-2zM763 236h2v2h-2zM715 240h2v2h-2zM717 240h2v2h-2zM730 242h2v2h-2zM693 245h2v2h-2zM708 245h2v2h-2zM639 246h2v2h-2zM725 249h2v2h-2zM648 256h2v2h-2zM685 257h2v2h-2zM689 258h2v2h-2zM709 257h2v2h-2zM714 257h2v2h-2zM641 259h2v2h-2zM664 260h2v2h-2zM753 262h2v2h-2zM644 267h2v2h-2zM657 265h2v2h-2zM664 263h2v2h-2zM667 264h2v2h-2zM670 267h2v2h-2zM683 266h2v2h-2zM712 264h2v2h-2zM748 267h2v2h-2zM646 273h2v2h-2zM660 272h2v2h-2zM673 272h2v2h-2zM723 274h2v2h-2zM650 279h2v2h-2zM666 278h2v2h-2zM676 279h2v2h-2zM686 277h2v2h-2zM759 280h2v2h-2zM761 283h2v2h-2zM752 284h2v2h-2zM655 285h2v2h-2zM846 298h2v2h-2zM768 301h2v2h-2zM771 300h2v2h-2zM724 302h2v2h-2zM829 302h2v2h-2zM682 305h2v2h-2zM711 307h2v2h-2zM773 308h2v2h-2zM791 306h2v2h-2zM826 312h2v2h-2zM828 317h2v2h-2zM680 322h2v2h-2zM800 322h2v2h-2zM823 327h2v2h-2zM825 328h2v2h-2zM765 330h2v2h-2zM774 334h2v2h-2zM762 336h2v2h-2zM651 337h2v2h-2zM654 339h2v2h-2zM928 336h2v2h-2zM849 342h2v2h-2zM820 349h2v2h-2zM822 349h2v2h-2zM804 352h2v2h-2zM925 356h2v2h-2zM930 357h2v2h-2zM803 358h2v2h-2zM806 358h2v2h-2zM812 359h2v2h-2zM835 357h2v2h-2zM787 360h2v2h-2zM801 360h2v2h-2zM778 364h2v2h-2zM924 365h2v2h-2zM809 369h2v2h-2zM836 370h2v2h-2zM902 370h2v2h-2zM905 370h2v2h-2zM775 372h2v2h-2zM810 373h2v2h-2zM813 374h2v2h-2zM934 372h2v2h-2zM935 373h2v2h-2zM903 376h2v2h-2zM817 379h2v2h-2zM937 379h2v2h-2zM940 382h2v2h-2zM852 382h2v2h-2zM777 384h2v2h-2zM807 385h2v2h-2zM842 386h2v2h-2zM819 390h2v2h-2zM839 390h2v2h-2zM782 392h2v2h-2zM795 392h2v2h-2zM916 392h2v2h-2zM919 394h2v2h-2zM922 392h2v2h-2zM854 395h2v2h-2zM793 398h2v2h-2zM816 399h2v2h-2zM918 398h2v2h-2zM855 399h2v2h-2zM814 403h2v2h-2zM841 402h2v2h-2zM844 403h2v2h-2zM856 404h2v2h-2zM779 406h2v2h-2zM781 406h2v2h-2zM858 407h2v2h-2zM915 410h2v2h-2zM788 412h2v2h-2zM790 415h2v2h-2zM861 419h2v2h-2zM795 422h2v2h-2zM798 423h2v2h-2zM784 424h2v2h-2zM785 430h2v2h-2zM797 430h2v2h-2zM914 430h2v2h-2zM862 442h2v2h-2zM863 454h2v2h-2zM864 466h2v2h-2zM865 474h2v2h-2zM867 480h2v2h-2zM868 485h2v2h-2zM616 303h2v2h-2zM587 310h2v2h-2zM609 308h2v2h-2zM606 313h2v2h-2zM622 318h2v2h-2zM624 317h2v2h-2zM590 320h2v2h-2zM597 319h2v2h-2zM584 329h2v2h-2zM580 333h2v2h-2zM576 338h2v2h-2zM603 338h2v2h-2zM613 339h2v2h-2zM588 341h2v2h-2zM591 342h2v2h-2zM574 345h2v2h-2zM626 344h2v2h-2zM599 347h2v2h-2zM623 352h2v2h-2zM602 354h2v2h-2zM593 360h2v2h-2zM600 380h2v2h-2zM572 387h2v2h-2zM571 395h2v2h-2zM569 402h2v2h-2zM568 418h2v2h-2zM566 425h2v2h-2zM565 437h2v2h-2zM1093 193h2v2h-2zM1086 203h2v2h-2zM1090 204h2v2h-2zM1084 207h2v2h-2zM1093 206h2v2h-2zM1095 208h2v2h-2zM1062 210h2v2h-2zM1065 210h2v2h-2zM1064 221h2v2h-2zM1061 228h2v2h-2zM1042 229h2v2h-2zM1083 231h2v2h-2zM1045 234h2v2h-2zM1144 242h2v2h-2zM1043 246h2v2h-2zM1141 246h2v2h-2zM991 248h2v2h-2zM1046 254h2v2h-2zM1143 254h2v2h-2zM1041 256h2v2h-2zM1039 259h2v2h-2zM1048 265h2v2h-2zM1057 267h2v2h-2zM1128 267h2v2h-2zM1147 267h2v2h-2zM1055 270h2v2h-2zM1051 274h2v2h-2zM1049 276h2v2h-2zM1052 277h2v2h-2zM1054 277h2v2h-2zM1138 274h2v2h-2zM1148 275h2v2h-2zM1135 277h2v2h-2zM1145 278h2v2h-2zM989 278h2v2h-2zM1131 281h2v2h-2zM1058 282h2v2h-2zM1038 283h2v2h-2zM1132 285h2v2h-2zM1059 286h2v2h-2zM1134 292h2v2h-2zM1140 292h2v2h-2zM1129 294h2v2h-2zM1137 320h2v2h-2zM1078 324h2v2h-2zM994 334h2v2h-2zM995 353h2v2h-2zM996 387h2v2h-2z" fill="#004a9f"/>
</g>
<defs><clipPath id="c1"><rect x="511" y="522" width="11" height="11"/></clipPath></defs>
<rect x="511" y="522" width="11" height="11" fill="#0a0aa0" shape-rendering="crispEdges"/>
<circle cx="519" cy="532.2" r="3.1" fill="#fff" clip-path="url(#c1)"/>
<path d="M513.5 522h2v2.3h1.8v2l-2 2v1.7h-1.6v-1.7l-2 -2v-2h1.8z" fill="#ffff00"/>
<text transform="translate(523 532) scale(0.89 1)" fill="#101010" stroke="#101010" stroke-width="0.15" font-size="12" text-anchor="start" >09:10</text>
<rect x="1108" y="522" width="11" height="11" fill="#0a0aa0" shape-rendering="crispEdges"/>
<circle cx="1111" cy="525" r="2.9" fill="#fff"/>
<path d="M1115.5 524.6l2.6 4.1v2h-1.6v2.3h-2v-2.3h-1.6v-2z" fill="#ffff00"/>
<text transform="translate(1120 532) scale(0.89 1)" fill="#101010" stroke="#101010" stroke-width="0.15" font-size="12" text-anchor="start" >22:49</text>
<g shape-rendering="crispEdges">
<rect x="0" y="535" width="1280" height="73" fill="#c0c0c0"/>
<rect x="0" y="535" width="1280" height="2" fill="#ffffff"/>
<rect x="0" y="536" width="1" height="72" fill="#a0a0a0"/>
<rect x="1" y="536" width="1" height="72" fill="#ffffff"/>
<rect x="1278" y="537" width="2" height="71" fill="#808080"/>
<rect x="87" y="537" width="1" height="71" fill="#808080"/>
<rect x="88" y="537" width="1" height="71" fill="#ffffff"/>
<rect x="204" y="537" width="1" height="71" fill="#808080"/>
<rect x="205" y="537" width="1" height="71" fill="#ffffff"/>
<rect x="322" y="537" width="1" height="71" fill="#808080"/>
<rect x="323" y="537" width="1" height="71" fill="#ffffff"/>
<rect x="440" y="537" width="1" height="71" fill="#808080"/>
<rect x="441" y="537" width="1" height="71" fill="#ffffff"/>
<rect x="558" y="537" width="1" height="71" fill="#808080"/>
<rect x="559" y="537" width="1" height="71" fill="#ffffff"/>
<rect x="676" y="537" width="1" height="71" fill="#808080"/>
<rect x="677" y="537" width="1" height="71" fill="#ffffff"/>
<rect x="794" y="537" width="1" height="71" fill="#808080"/>
<rect x="795" y="537" width="1" height="71" fill="#ffffff"/>
<rect x="912" y="537" width="1" height="71" fill="#808080"/>
<rect x="913" y="537" width="1" height="71" fill="#ffffff"/>
</g>
<text transform="translate(8.5 553.5) scale(0.89 1)" fill="#000" font-size="12" text-anchor="start" font-weight="bold" textLength="43.2584" lengthAdjust="spacingAndGlyphs">Sensor</text>
<text transform="translate(8.5 569.5) scale(0.89 1)" fill="#000" font-size="12" text-anchor="start" font-weight="bold" textLength="52.2472" lengthAdjust="spacingAndGlyphs">MinWert</text>
<text transform="translate(8.5 585.5) scale(0.89 1)" fill="#000" font-size="12" text-anchor="start" font-weight="bold" textLength="55.618" lengthAdjust="spacingAndGlyphs">MaxWert</text>
<text transform="translate(8.5 601.5) scale(0.89 1)" fill="#000" font-size="12" text-anchor="start" font-weight="bold" textLength="80.3371" lengthAdjust="spacingAndGlyphs">Durchschnitt</text>
<text transform="translate(94.5 553.5) scale(0.89 1)" fill="#000" font-size="12" text-anchor="start" font-weight="bold" textLength="52.2472" lengthAdjust="spacingAndGlyphs">Innen-T.</text>
<text transform="translate(198 553.5) scale(0.89 1)" fill="#000" font-size="12" text-anchor="end" font-weight="bold" textLength="14.0449" lengthAdjust="spacingAndGlyphs">&#176;C</text>
<text transform="translate(100.5 569.5) scale(0.89 1)" fill="#000" stroke="#000" stroke-width="0.15" font-size="12" text-anchor="start" >05:14</text>
<text transform="translate(198 569.5) scale(0.89 1)" fill="#000" stroke="#000" stroke-width="0.15" font-size="12" text-anchor="end" >22.2</text>
<text transform="translate(100.5 585.5) scale(0.89 1)" fill="#000" stroke="#000" stroke-width="0.15" font-size="12" text-anchor="start" >23:28</text>
<text transform="translate(198 585.5) scale(0.89 1)" fill="#000" stroke="#000" stroke-width="0.15" font-size="12" text-anchor="end" >24.9</text>
<text transform="translate(198 601.5) scale(0.89 1)" fill="#000" stroke="#000" stroke-width="0.15" font-size="12" text-anchor="end" >23.75</text>
<text transform="translate(212 553.5) scale(0.89 1)" fill="#000" font-size="12" text-anchor="start" font-weight="bold" textLength="74.1573" lengthAdjust="spacingAndGlyphs">Temp. +200</text>
<text transform="translate(316 553.5) scale(0.89 1)" fill="#000" font-size="12" text-anchor="end" font-weight="bold" textLength="14.0449" lengthAdjust="spacingAndGlyphs">&#176;C</text>
<text transform="translate(218 569.5) scale(0.89 1)" fill="#000" stroke="#000" stroke-width="0.15" font-size="12" text-anchor="start" >07:26</text>
<text transform="translate(316 569.5) scale(0.89 1)" fill="#000" stroke="#000" stroke-width="0.15" font-size="12" text-anchor="end" >-5.3</text>
<text transform="translate(218 585.5) scale(0.89 1)" fill="#000" stroke="#000" stroke-width="0.15" font-size="12" text-anchor="start" >15:02</text>
<text transform="translate(316 585.5) scale(0.89 1)" fill="#000" stroke="#000" stroke-width="0.15" font-size="12" text-anchor="end" >6.1</text>
<text transform="translate(316 601.5) scale(0.89 1)" fill="#000" stroke="#000" stroke-width="0.15" font-size="12" text-anchor="end" >-0.99</text>
<text transform="translate(330 553.5) scale(0.89 1)" fill="#000" font-size="12" text-anchor="start" font-weight="bold" textLength="60.1124" lengthAdjust="spacingAndGlyphs">Luftdruck</text>
<text transform="translate(434 553.5) scale(0.89 1)" fill="#000" font-size="12" text-anchor="end" font-weight="bold" textLength="24.1573" lengthAdjust="spacingAndGlyphs">hPa</text>
<text transform="translate(336 569.5) scale(0.89 1)" fill="#000" stroke="#000" stroke-width="0.15" font-size="12" text-anchor="start" >23:46</text>
<text transform="translate(434 569.5) scale(0.89 1)" fill="#000" stroke="#000" stroke-width="0.15" font-size="12" text-anchor="end" >1036.1</text>
<text transform="translate(336 585.5) scale(0.89 1)" fill="#000" stroke="#000" stroke-width="0.15" font-size="12" text-anchor="start" >10:06</text>
<text transform="translate(434 585.5) scale(0.89 1)" fill="#000" stroke="#000" stroke-width="0.15" font-size="12" text-anchor="end" >1040.6</text>
<text transform="translate(330 601.5) scale(0.89 1)" fill="#000" stroke="#000" stroke-width="0.15" font-size="12" text-anchor="start" >^1.5hPa/h</text>
<text transform="translate(434 601.5) scale(0.89 1)" fill="#000" stroke="#000" stroke-width="0.15" font-size="12" text-anchor="end" >1038.2</text>
<text transform="translate(448 553.5) scale(0.89 1)" fill="#000" font-size="12" text-anchor="start" font-weight="bold" textLength="32.0225" lengthAdjust="spacingAndGlyphs">Wind</text>
<text transform="translate(552 553.5) scale(0.89 1)" fill="#000" font-size="12" text-anchor="end" font-weight="bold" textLength="32.0225" lengthAdjust="spacingAndGlyphs">km/h</text>
<text transform="translate(448 569.5) scale(0.89 1)" fill="#000" stroke="#000" stroke-width="0.15" font-size="12" text-anchor="start" >&#216; 10 min.</text>
<text transform="translate(552 569.5) scale(0.89 1)" fill="#000" stroke="#000" stroke-width="0.15" font-size="12" text-anchor="end" >0.0</text>
<text transform="translate(454 585.5) scale(0.89 1)" fill="#000" stroke="#000" stroke-width="0.15" font-size="12" text-anchor="start" >13:16</text>
<text transform="translate(552 585.5) scale(0.89 1)" fill="#000" stroke="#000" stroke-width="0.15" font-size="12" text-anchor="end" >S 5.4</text>
<text transform="translate(454 601.5) scale(0.89 1)" fill="#000" stroke="#000" stroke-width="0.15" font-size="12" text-anchor="start" >45.8 km</text>
<text transform="translate(552 601.5) scale(0.89 1)" fill="#000" stroke="#000" stroke-width="0.15" font-size="12" text-anchor="end" >1.2</text>
<text transform="translate(566 553.5) scale(0.89 1)" fill="#000" font-size="12" text-anchor="start" font-weight="bold" textLength="57.3034" lengthAdjust="spacingAndGlyphs">Richtung</text>
<text transform="translate(572 569.5) scale(0.89 1)" fill="#000" stroke="#000" stroke-width="0.15" font-size="12" text-anchor="start" >22:04</text>
<text transform="translate(670 569.5) scale(0.89 1)" fill="#000" stroke="#000" stroke-width="0.15" font-size="12" text-anchor="end" >N</text>
<text transform="translate(572 585.5) scale(0.89 1)" fill="#000" stroke="#000" stroke-width="0.15" font-size="12" text-anchor="start" >14:56</text>
<text transform="translate(670 585.5) scale(0.89 1)" fill="#000" stroke="#000" stroke-width="0.15" font-size="12" text-anchor="end" >N</text>
<text transform="translate(670 601.5) scale(0.89 1)" fill="#000" stroke="#000" stroke-width="0.15" font-size="12" text-anchor="end" >NO</text>
<text transform="translate(684 553.5) scale(0.89 1)" fill="#000" font-size="12" text-anchor="start" font-weight="bold" textLength="41.0112" lengthAdjust="spacingAndGlyphs">Regen</text>
<text transform="translate(788 553.5) scale(0.89 1)" fill="#000" font-size="12" text-anchor="end" font-weight="bold" textLength="24.1573" lengthAdjust="spacingAndGlyphs">l/m&#178;</text>
<text transform="translate(690 585.5) scale(0.89 1)" fill="#000" stroke="#000" stroke-width="0.15" font-size="12" text-anchor="start" >10:36</text>
<text transform="translate(788 585.5) scale(0.89 1)" fill="#000" stroke="#000" stroke-width="0.15" font-size="12" text-anchor="end" >0.0</text>
<text transform="translate(684 601.5) scale(0.89 1)" fill="#000" stroke="#000" stroke-width="0.15" font-size="12" text-anchor="start" >Gesamt:</text>
<text transform="translate(788 601.5) scale(0.89 1)" fill="#000" stroke="#000" stroke-width="0.15" font-size="12" text-anchor="end" >0.0</text>
<text transform="translate(802 553.5) scale(0.89 1)" fill="#000" font-size="12" text-anchor="start" font-weight="bold" textLength="64.0449" lengthAdjust="spacingAndGlyphs">Windb&#246;en</text>
<text transform="translate(906 553.5) scale(0.89 1)" fill="#000" font-size="12" text-anchor="end" font-weight="bold" textLength="32.0225" lengthAdjust="spacingAndGlyphs">km/h</text>
<text transform="translate(802 569.5) scale(0.89 1)" fill="#000" stroke="#000" stroke-width="0.15" font-size="12" text-anchor="start" >&#216; 10 min.</text>
<text transform="translate(906 569.5) scale(0.89 1)" fill="#000" stroke="#000" stroke-width="0.15" font-size="12" text-anchor="end" >0.0</text>
<text transform="translate(808 585.5) scale(0.89 1)" fill="#000" stroke="#000" stroke-width="0.15" font-size="12" text-anchor="start" >06:26</text>
<text transform="translate(906 585.5) scale(0.89 1)" fill="#000" stroke="#000" stroke-width="0.15" font-size="12" text-anchor="end" >NO 12.7</text>
<text transform="translate(808 601.5) scale(0.89 1)" fill="#000" stroke="#000" stroke-width="0.15" font-size="12" text-anchor="start" >45.8 km</text>
<text transform="translate(906 601.5) scale(0.89 1)" fill="#000" stroke="#000" stroke-width="0.15" font-size="12" text-anchor="end" >1.9</text>
<text transform="translate(920 553.5) scale(0.89 1)" fill="#000" font-size="12" text-anchor="start" font-weight="bold" textLength="58.427" lengthAdjust="spacingAndGlyphs">PMV-1:-3</text>
<text transform="translate(920 569.5) scale(0.89 1)" fill="#000" stroke="#000" stroke-width="0.15" font-size="12" text-anchor="start" >WC -3.2 &#176;C</text>
<text transform="translate(920 585.5) scale(0.89 1)" fill="#000" stroke="#000" stroke-width="0.15" font-size="12" text-anchor="start" >TP -6.1 &#176;C</text>
<text transform="translate(920 601.5) scale(0.89 1)" fill="#000" stroke="#000" stroke-width="0.15" font-size="12" text-anchor="start" >-0.4hPa/3h</text>
</svg>
</body></html>
